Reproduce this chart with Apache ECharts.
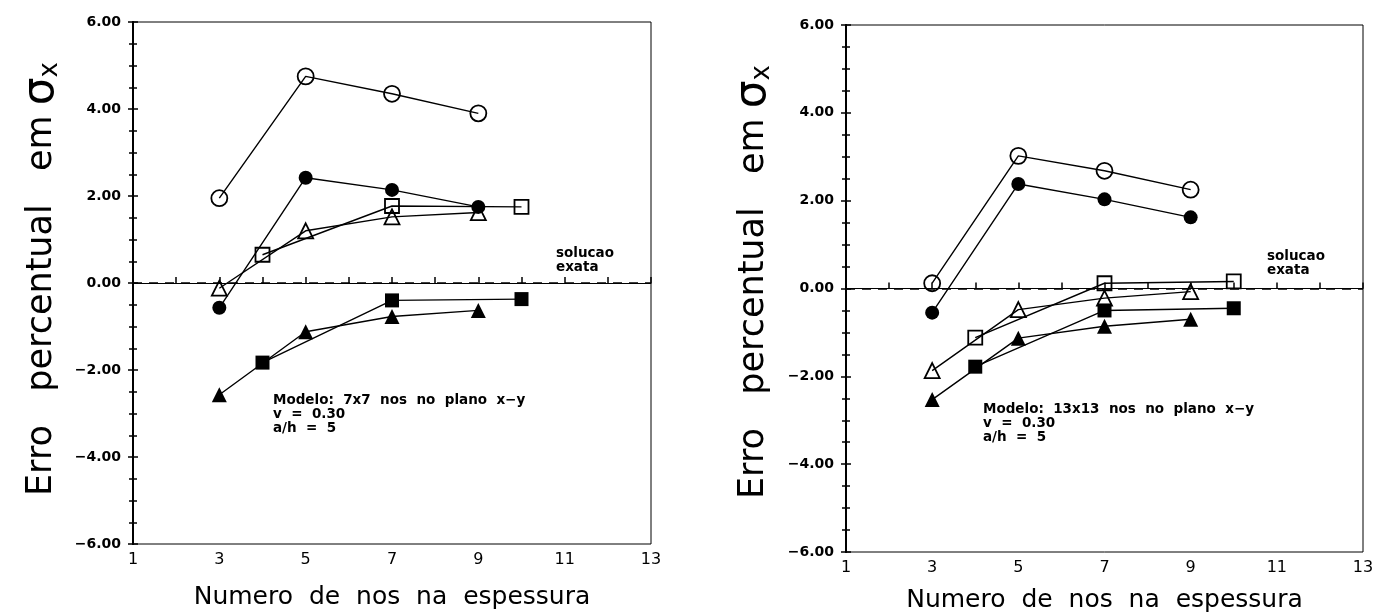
<!DOCTYPE html>
<html>
<head>
<meta charset="utf-8">
<title>Erro percentual em sigma x</title>
<script src="https://cdn.jsdelivr.net/npm/echarts@6/dist/echarts.min.js"></script>
<style>
    html, body { margin:0; padding:0; background:#fff; }
    #main { width:1379px; height:616px; }
</style>
</head>
<body>
<div id="main"></div>
<script>
// numero de nos na espessura
var xOdd = [3, 5, 7, 9];
var xSq = [4, 7, 10];

// modelo 7x7
var l_openCircle = [1.95, 4.75, 4.35, 3.9];
var l_fullCircle = [-0.57, 2.42, 2.14, 1.75];
var l_openTri = [-0.12, 1.2, 1.52, 1.62];
var l_openSq = [0.65, 1.77, 1.75];
var l_fullTri = [-2.57, -1.12, -0.77, -0.63];
var l_fullSq = [-1.83, -0.4, -0.37];

// modelo 13x13
var r_openCircle = [0.12, 3.02, 2.68, 2.25];
var r_fullCircle = [-0.55, 2.38, 2.03, 1.62];
var r_openTri = [-1.87, -0.48, -0.22, -0.07];
var r_openSq = [-1.12, 0.12, 0.16];
var r_fullTri = [-2.53, -1.13, -0.86, -0.7];
var r_fullSq = [-1.78, -0.5, -0.45];

function zip(xs, ys) {
    var out = [];
    for (var i = 0; i < xs.length; i++) out.push([xs[i], ys[i]]);
    return out;
}

var font = 'DejaVu Sans';

function mk(idx, data, symbol, filled, size) {
    return {
        type: 'line',
        xAxisIndex: idx, yAxisIndex: idx * 2,
        data: data,
        symbol: symbol,
        symbolSize: size,
        showAllSymbol: true,
        lineStyle: { color: '#000', width: 1.4 },
        itemStyle: {
            color: filled ? '#000' : 'rgba(0,0,0,0)',
            borderColor: '#000',
            borderWidth: filled ? 0 : 1.8
        },
        emphasis: { disabled: true },
        animation: false,
        z: 3
    };
}

function zeroLine(idx) {
    return {
        type: 'line', xAxisIndex: idx, yAxisIndex: idx * 2, data: [],
        markLine: {
            silent: true, symbol: 'none', animation: false,
            label: { show: false },
            lineStyle: { color: '#000', type: [9, 7], width: 1.7 },
            data: [{ yAxis: 0 }]
        }
    };
}

function xAx(idx, gap) {
    return {
        gridIndex: idx, type: 'value', min: 1, max: 13, interval: 1,
        name: 'Numero  de  nos  na  espessura', nameLocation: 'middle', nameGap: gap,
        nameTextStyle: { fontFamily: font, fontSize: 25, color: '#000' },
        axisLine: { show: true, lineStyle: { color: '#000', width: 1 } },
        axisTick: { show: true, inside: true, length: 6, lineStyle: { color: '#000', width: 1.5 } },
        axisLabel: {
            fontFamily: font, fontSize: 16, color: '#000', margin: 8,
            formatter: function (v) { return v % 2 === 1 ? String(v) : ''; }
        },
        splitLine: { show: false }
    };
}

function yAx(idx, inside) {
    return {
        gridIndex: idx, type: 'value', min: -6, max: 6, interval: 2, position: 'left',
        axisLine: { show: true, onZero: false, lineStyle: { color: '#000', width: 2 } },
        axisTick: { show: true, inside: inside, length: 5, lineStyle: { color: '#000', width: 1.5 } },
        minorTick: { show: true, splitNumber: 4, length: 4, lineStyle: { color: '#000', width: 1.5 } },
        axisLabel: {
            show: !inside, fontFamily: font, fontSize: 14, fontWeight: 'bold', color: '#000', margin: 12,
            formatter: function (v) { return (v < 0 ? '\u2212' : '') + Math.abs(v).toFixed(2); }
        },
        splitLine: { show: false }
    };
}

var chart = echarts.init(document.getElementById('main'));

var yTitleRich = {
    t: { fontFamily: font, fontSize: 35, fill: '#000' },
    s: { fontFamily: font, fontSize: 44, fill: '#000' },
    x: { fontFamily: font, fontSize: 26, fill: '#000', padding: [16, 0, 0, 0] }
};
var yTitle = '{t|Erro   percentual   em}   {s|\u03c3}{x|x}';

function note(x, y, lines) {
    return {
        type: 'text', x: x, y: y, silent: true,
        style: { text: lines, fontFamily: font, fontSize: 13.5, fontWeight: 'bold', lineHeight: 14, fill: '#000' }
    };
}

var option = {
    backgroundColor: '#fff',
    animation: false,
    grid: [
        { left: 133, top: 22, width: 518, height: 522, outerBoundsMode: 'none', show: true, borderColor: '#000', borderWidth: 1, backgroundColor: 'transparent' },
        { left: 846, top: 25, width: 517, height: 527, outerBoundsMode: 'none', show: true, borderColor: '#000', borderWidth: 1, backgroundColor: 'transparent' }
    ],
    xAxis: [xAx(0, 41), xAx(1, 36)],
    yAxis: [yAx(0, false), yAx(0, true), yAx(1, false), yAx(1, true)],
    series: [
        zeroLine(0),
        mk(0, zip(xOdd, l_openCircle), 'circle', false, 16),
        mk(0, zip(xOdd, l_fullCircle), 'circle', true, 14),
        mk(0, zip(xOdd, l_openTri), 'triangle', false, 15),
        mk(0, zip(xSq, l_openSq), 'rect', false, 14),
        mk(0, zip(xOdd, l_fullTri), 'triangle', true, 15),
        mk(0, zip(xSq, l_fullSq), 'rect', true, 14),
        zeroLine(1),
        mk(1, zip(xOdd, r_openCircle), 'circle', false, 16),
        mk(1, zip(xOdd, r_fullCircle), 'circle', true, 14),
        mk(1, zip(xOdd, r_openTri), 'triangle', false, 15),
        mk(1, zip(xSq, r_openSq), 'rect', false, 14),
        mk(1, zip(xOdd, r_fullTri), 'triangle', true, 15),
        mk(1, zip(xSq, r_fullSq), 'rect', true, 14)
    ],
    graphic: [
        {
            type: 'text', x: 42, y: 279, rotation: Math.PI / 2, silent: true,
            style: { text: yTitle, rich: yTitleRich, align: 'center', verticalAlign: 'middle' }
        },
        {
            type: 'text', x: 754, y: 282, rotation: Math.PI / 2, silent: true,
            style: { text: yTitle, rich: yTitleRich, align: 'center', verticalAlign: 'middle' }
        },
        note(556, 246, 'solucao\nexata'),
        note(1267, 249, 'solucao\nexata'),
        note(273, 393, 'Modelo:  7x7  nos  no  plano  x\u2212y\nv  =  0.30\na/h  =  5'),
        note(983, 402, 'Modelo:  13x13  nos  no  plano  x\u2212y\nv  =  0.30\na/h  =  5')
    ]
};

chart.setOption(option);
</script>
</body>
</html>
